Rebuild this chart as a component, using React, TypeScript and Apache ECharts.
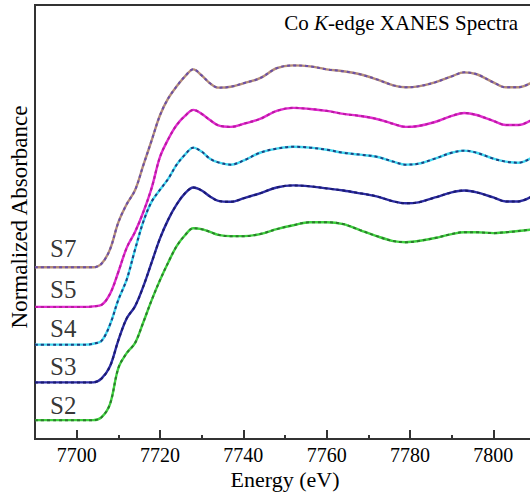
import React, { useEffect, useRef } from "react";
import * as echarts from "echarts";

// Energy grid (eV)
const ENERGY = [
  7690, 7695, 7700, 7702, 7704, 7706, 7708, 7710, 7712, 7714, 7716, 7718, 7720, 7722,
  7724, 7726, 7728, 7730, 7732, 7734, 7737, 7740, 7744, 7748, 7752, 7756, 7760, 7764,
  7768, 7772, 7776, 7779, 7782, 7786, 7790, 7793, 7796, 7800, 7803, 7806, 7810,
];

// Normalized absorbance of each sample (before vertical stacking)
const S7 = [0, 0, 0, 0, 0, 0.02, 0.095, 0.238, 0.334, 0.408, 0.541, 0.673, 0.806, 0.896, 0.959, 1.012, 1.049, 1.017, 0.975, 0.952, 0.957, 0.975, 1.002, 1.055, 1.07, 1.065, 1.049, 1.039, 1.023, 0.996, 0.964, 0.954, 0.959, 0.98, 1.012, 1.033, 1.023, 0.98, 0.954, 0.954, 0.991];
const S5 = [0, 0, 0, 0, 0.003, 0.011, 0.069, 0.185, 0.313, 0.397, 0.503, 0.631, 0.795, 0.89, 0.964, 1.012, 1.044, 1.023, 0.99, 0.962, 0.954, 0.97, 0.996, 1.039, 1.055, 1.049, 1.039, 1.023, 1.012, 0.996, 0.97, 0.954, 0.959, 0.98, 1.012, 1.028, 1.017, 0.986, 0.964, 0.964, 1.002];
const S4 = [0, 0, 0, 0, 0.005, 0.021, 0.106, 0.238, 0.344, 0.503, 0.652, 0.758, 0.821, 0.88, 0.954, 1.007, 1.044, 1.023, 0.985, 0.966, 0.954, 0.975, 1.017, 1.039, 1.049, 1.044, 1.033, 1.017, 1.007, 0.996, 0.97, 0.954, 0.959, 0.986, 1.017, 1.028, 1.017, 0.986, 0.97, 0.964, 1.002];
const S3 = [0, 0, 0, 0, 0, 0.021, 0.085, 0.223, 0.339, 0.403, 0.509, 0.636, 0.763, 0.864, 0.943, 1.002, 1.033, 1.017, 0.985, 0.962, 0.957, 0.975, 1.002, 1.033, 1.044, 1.039, 1.028, 1.017, 1.002, 0.986, 0.959, 0.949, 0.954, 0.98, 1.007, 1.017, 1.007, 0.98, 0.959, 0.959, 0.996];
const S2 = [0, 0, 0, 0, 0, 0.016, 0.085, 0.276, 0.355, 0.408, 0.519, 0.636, 0.742, 0.837, 0.922, 0.98, 1.017, 1.012, 0.998, 0.982, 0.975, 0.975, 0.986, 1.012, 1.033, 1.049, 1.049, 1.039, 1.007, 0.975, 0.949, 0.943, 0.949, 0.965, 0.986, 0.996, 0.996, 0.991, 0.996, 1.002, 1.012];

const SAMPLE_NAMES = ["S7", "S5", "S4", "S3", "S2"];
const SAMPLE_DATA = [S7, S5, S4, S3, S2];
const STACK_OFFSETS = [0.91, 0.7, 0.5, 0.3, 0.1];

// Sample label anchors (data coordinates)
const LABEL_ENERGY = 7693.6;
const LABEL_VALUES = [1.012, 0.79, 0.583, 0.382, 0.175];

// Axis ranges
const X_MIN = 7690;
const X_MAX = 7810;
const MAJOR_STEP = 20;
const MINOR_STEP = 10;
const Y_MIN = 0;
const Y_MAX = 2.3;

const SOLID_COLORS = ["#b48c78", "#e22ad0", "#3fd8f0", "#2c2ca4", "#3ed23e"];
const DOT_COLORS = ["#6a4fa8", "#b81aa0", "#1f3f80", "#1a1a6e", "#2d7a2d"];

const FONT = "'Liberation Serif', 'Times New Roman', serif";
const TEXT = "#000000";
const AXIS = "#333333";

// layout (px)
const W = 530;
const H = 495;
const G_LEFT = 35;
const G_WIDTH = 500;
const G_TOP = 5;
const G_BOTTOM = 56;

export default function App() {
  const ref = useRef<HTMLDivElement>(null);

  useEffect(() => {
    if (!ref.current) return;
    const chart = echarts.init(ref.current, undefined, { renderer: "svg" });

    const series: any[] = [];
    SAMPLE_DATA.forEach((mu, i) => {
      const pts = ENERGY.map((e, k) => [e, +(mu[k] + STACK_OFFSETS[i]).toFixed(4)]);
      series.push({
        type: "line",
        name: SAMPLE_NAMES[i],
        data: pts,
        showSymbol: false,
        smooth: 0.35,
        lineStyle: { color: SOLID_COLORS[i], width: 2.4 },
        silent: true,
        z: 2,
      });
      series.push({
        type: "line",
        name: SAMPLE_NAMES[i] + " fit",
        data: pts,
        showSymbol: false,
        smooth: 0.35,
        lineStyle: { color: DOT_COLORS[i], width: 2, type: [3, 3] },
        silent: true,
        z: 3,
      });
    });

    series.push({
      type: "scatter",
      data: SAMPLE_NAMES.map((n, i) => ({ name: n, value: [LABEL_ENERGY, LABEL_VALUES[i]] })),
      symbolSize: 0,
      silent: true,
      label: {
        show: true,
        position: "right",
        distance: 0,
        formatter: (p: any) => p.name,
        fontFamily: FONT,
        fontSize: 25,
        color: TEXT,
      },
    });

    // second grid shifted so its min is a multiple of the major step, same scale
    const pxPerUnit = G_WIDTH / (X_MAX - X_MIN);
    const majorMin = Math.ceil(X_MIN / MAJOR_STEP) * MAJOR_STEP;
    const shift = (majorMin - X_MIN) * pxPerUnit;
    const left2 = G_LEFT + shift;

    chart.setOption({
      animation: false,
      backgroundColor: "#ffffff",
      title: {
        text: "Co {i|K}-edge XANES Spectra",
        right: 12,
        top: 12,
        padding: 0,
        textStyle: {
          fontFamily: FONT,
          fontSize: 21,
          fontWeight: "normal",
          color: TEXT,
          rich: {
            i: { fontFamily: FONT, fontSize: 21, fontStyle: "italic", color: TEXT },
          },
        },
      },
      grid: [
        {
          left: G_LEFT,
          width: G_WIDTH,
          top: G_TOP,
          bottom: G_BOTTOM,
          show: true,
          borderColor: AXIS,
          borderWidth: 2,
          outerBoundsMode: "none",
          containLabel: false,
        },
        {
          left: left2,
          width: G_WIDTH,
          top: G_TOP,
          bottom: G_BOTTOM,
          show: false,
          outerBoundsMode: "none",
          containLabel: false,
        },
      ],
      xAxis: [
        {
          // data axis with minor ticks every 10 eV
          type: "value",
          gridIndex: 0,
          min: X_MIN,
          max: X_MAX,
          interval: MINOR_STEP,
          name: "Energy (eV)",
          nameLocation: "middle",
          nameGap: 29,
          nameTextStyle: { fontFamily: FONT, fontSize: 22, color: TEXT },
          axisLine: { show: true, lineStyle: { color: AXIS, width: 2 } },
          axisTick: {
            show: true,
            inside: true,
            length: 4,
            lineStyle: { color: AXIS, width: 2 },
          },
          axisLabel: { show: false },
          splitLine: { show: false },
          z: 10,
        },
        {
          // major ticks + labels every 20 eV, same px scale
          type: "value",
          gridIndex: 1,
          min: majorMin,
          max: majorMin + (X_MAX - X_MIN),
          interval: MAJOR_STEP,
          axisLine: { show: false },
          axisTick: {
            show: true,
            inside: true,
            length: 9,
            lineStyle: { color: AXIS, width: 2 },
          },
          axisLabel: {
            show: true,
            formatter: (v: number) => (v <= X_MAX - MAJOR_STEP / 2 ? String(v) : ""),
            margin: 6,
            fontFamily: FONT,
            fontSize: 20,
            color: TEXT,
            showMinLabel: true,
            showMaxLabel: false,
          },
          splitLine: { show: false },
          z: 10,
        },
      ],
      yAxis: [
        {
          type: "value",
          gridIndex: 0,
          min: Y_MIN,
          max: Y_MAX,
          axisLine: { show: true, lineStyle: { color: AXIS, width: 2 } },
          axisTick: { show: false },
          axisLabel: { show: false },
          splitLine: { show: false },
        },
        {
          type: "value",
          gridIndex: 1,
          min: Y_MIN,
          max: Y_MAX,
          show: false,
        },
      ],
      graphic: [
        {
          type: "text",
          x: 19,
          y: 217,
          rotation: Math.PI / 2,
          style: {
            text: "Normalized Absorbance",
            fontFamily: FONT,
            fontSize: 23,
            fill: TEXT,
            align: "center",
            verticalAlign: "middle",
          },
        },
      ],
      series,
    });

    return () => chart.dispose();
  }, []);

  return (
    <div
      ref={ref}
      style={{ position: "fixed", left: 0, top: 0, width: W, height: H }}
    />
  );
}
